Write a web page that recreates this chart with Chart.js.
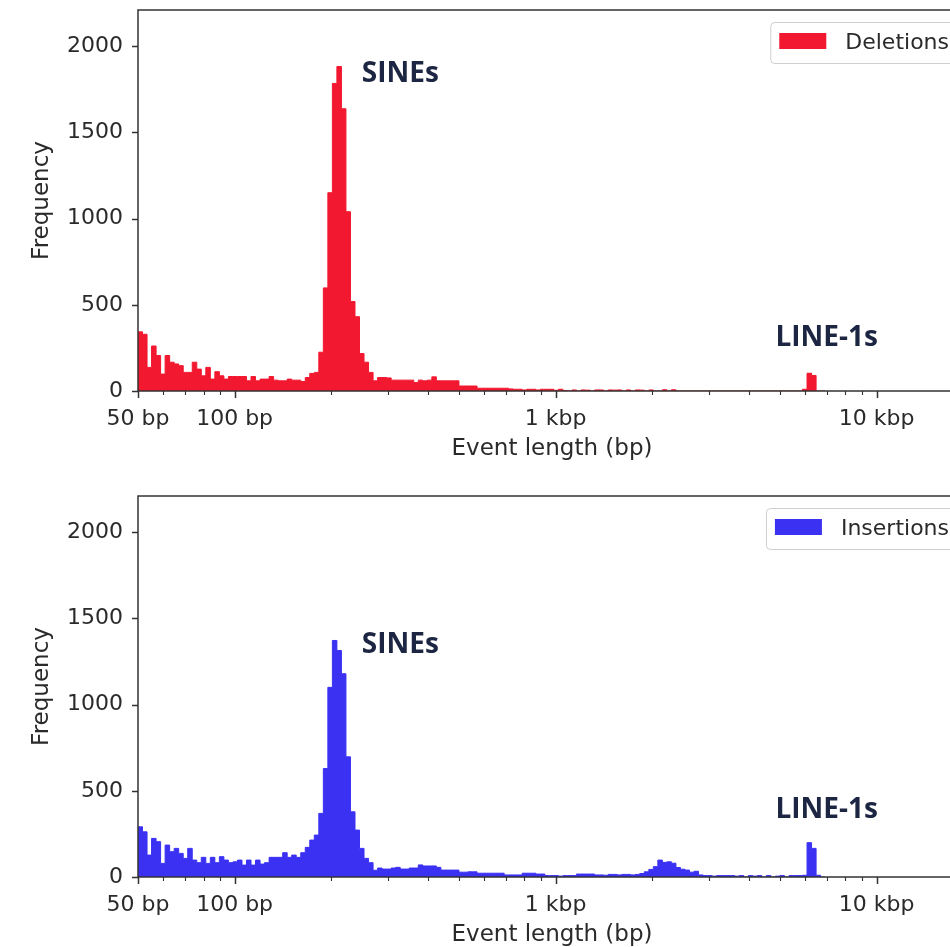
<!DOCTYPE html>
<html>
<head>
<meta charset="utf-8">
<script src="https://cdn.jsdelivr.net/npm/chart.js@4.4.1/dist/chart.umd.min.js"></script>
<style>
html, body { margin: 0; padding: 0; background: #ffffff; overflow: hidden; width: 950px; height: 947px; }
#wrap { position: relative; width: 980px; height: 947px; }
canvas { position: absolute; left: 0; display: block; }
#c1 { top: 0; }
#c2 { top: 486px; }
</style>
</head>
<body>
<div id="wrap">
  <canvas id="c1" width="980" height="486"></canvas>
  <canvas id="c2" width="980" height="486"></canvas>
</div>
<script>
// ---------------- data ----------------
// Histogram bins are log-spaced, starting at 50 bp, BINS_PER_DECADE bins per decade.
const FIRST_EDGE_BP = 50;
const BINS_PER_DECADE = 71;

const deletionCounts = [
  343, 329, 137, 261, 206, 98, 206, 167, 157, 147,
  108, 108, 167, 127, 88, 137, 69, 112, 88, 69,
  84, 84, 84, 84, 59, 84, 59, 69, 69, 84,
  63, 59, 59, 69, 63, 63, 55, 78, 102, 108,
  225, 598, 1150, 1784, 1882, 1637, 1040, 519, 431, 217,
  167, 108, 59, 78, 78, 76, 63, 63, 63, 63,
  63, 49, 63, 59, 63, 82, 59, 59, 59, 59,
  59, 29, 29, 29, 29, 16, 16, 16, 16, 16,
  16, 16, 12, 10, 10, 6, 10, 10, 6, 10,
  10, 10, 4, 10, 3, 0, 6, 0, 6, 5,
  0, 6, 6, 0, 6, 5, 6, 0, 6, 0,
  6, 5, 0, 6, 0, 0, 7, 0, 7, 0,
  0, 0, 0, 0, 0, 0, 0, 0, 0, 0,
  0, 0, 0, 0, 0, 0, 0, 0, 0, 0,
  0, 0, 0, 0, 0, 0, 0, 10, 103, 90,
  0, 0
];

const insertionCounts = [
  291, 262, 127, 224, 205, 79, 185, 147, 166, 137,
  108, 166, 98, 83, 114, 79, 114, 83, 118, 98,
  83, 88, 98, 69, 98, 69, 98, 75, 83, 114,
  114, 114, 141, 114, 127, 114, 141, 172, 214, 243,
  369, 629, 1100, 1372, 1314, 1179, 697, 378, 272, 166,
  108, 83, 39, 52, 46, 46, 52, 56, 46, 46,
  52, 52, 70, 64, 64, 64, 56, 40, 40, 40,
  40, 28, 28, 30, 30, 22, 22, 22, 22, 22,
  22, 12, 12, 12, 12, 22, 22, 22, 17, 17,
  8, 8, 8, 5, 8, 8, 8, 17, 17, 17,
  17, 12, 12, 10, 15, 15, 12, 15, 15, 12,
  15, 20, 30, 44, 60, 98, 85, 88, 80, 55,
  45, 40, 28, 33, 12, 8, 8, 5, 8, 8,
  8, 8, 5, 8, 0, 8, 5, 8, 0, 8,
  0, 5, 8, 0, 8, 8, 8, 10, 199, 166,
  10, 0
];

const majorTickValues = [50, 100, 1000, 10000];
const majorTickLabels = ['50 bp', '100 bp', '1 kbp', '10 kbp'];
const minorTickValues = [60, 70, 80, 90, 200, 300, 400, 500, 600, 700, 800, 900,
                         2000, 3000, 4000, 5000, 6000, 7000, 8000, 9000];
const yTickValues = [0, 500, 1000, 1500, 2000];
const X_MIN = 50, X_MAX = 19000;
const Y_MIN = 0, Y_MAX = 2210;

const deletionNotes = [
  { text: 'SINEs', x: 249, y: 1794 },
  { text: 'LINE-1s', x: 4840, y: 260 }
];
const insertionNotes = [
  { text: 'SINEs', x: 249, y: 1300 },
  { text: 'LINE-1s', x: 4840, y: 341 }
];

// ---------------- styling ----------------
const RED = '#f2182f';
const BLUE = '#3b31f3';
const AXIS = '#333333';
const TEXT = '#2a2a2a';
const FONT = '"DejaVu Sans", sans-serif';
const FS = 22;
const TFS = 23;

function binEdge(i) { return FIRST_EDGE_BP * Math.pow(10, i / BINS_PER_DECADE); }
function histPoints(counts) {
  const pts = counts.map((c, i) => ({ x: binEdge(i), y: c }));
  pts.push({ x: binEdge(counts.length), y: 0 });
  return pts;
}

const frameAndTicks = {
  id: 'frameAndTicks',
  afterDatasetsDraw(chart) {
    const { ctx, chartArea: a, scales: { x, y } } = chart;
    ctx.save();
    ctx.strokeStyle = AXIS;
    ctx.lineWidth = 1.5;
    ctx.beginPath();
    for (const v of majorTickValues) {
      const px = Math.round(x.getPixelForValue(v)) + 0.5;
      ctx.moveTo(px, a.bottom); ctx.lineTo(px, a.bottom + 7);
    }
    for (const v of yTickValues) {
      const py = Math.round(y.getPixelForValue(v)) + 0.5;
      ctx.moveTo(a.left, py); ctx.lineTo(a.left - 6, py);
    }
    ctx.stroke();
    ctx.lineWidth = 1.1;
    ctx.beginPath();
    for (const v of minorTickValues) {
      const px = Math.round(x.getPixelForValue(v)) + 0.5;
      ctx.moveTo(px, a.bottom); ctx.lineTo(px, a.bottom + 4);
    }
    ctx.stroke();
    ctx.lineWidth = 1.5;
    ctx.strokeRect(a.left, a.top, a.right - a.left, a.bottom - a.top);
    ctx.restore();
  }
};

const notesPlugin = {
  id: 'notes',
  afterDraw(chart, args, opts) {
    const { ctx, scales: { x, y } } = chart;
    ctx.save();
    ctx.font = '700 28px "Open Sans", "Noto Sans", sans-serif';
    ctx.fillStyle = '#1c2541';
    ctx.textAlign = 'left';
    ctx.textBaseline = 'alphabetic';
    for (const n of opts.items) {
      ctx.fillText(n.text, x.getPixelForValue(n.x), y.getPixelForValue(n.y));
    }
    ctx.restore();
  }
};

const legendBox = {
  id: 'legendBox',
  afterDraw(chart, args, opts) {
    const { ctx, chartArea: a } = chart;
    ctx.save();
    ctx.font = FS + 'px ' + FONT;
    const tw = ctx.measureText(opts.label).width;
    const right = a.right - 9, top = a.top + 12, h = 41;
    const textX = right - 8 - tw;
    const patchR = textX - 19, patchL = patchR - 47;
    const left = patchL - 9;
    ctx.beginPath();
    ctx.roundRect(left + 0.5, top + 0.5, right - left, h, 4);
    ctx.fillStyle = 'rgba(255,255,255,0.85)';
    ctx.fill();
    ctx.strokeStyle = '#cfcfcf';
    ctx.lineWidth = 1;
    ctx.stroke();
    ctx.fillStyle = opts.color;
    ctx.fillRect(patchL, top + 11, 47, 16);
    ctx.fillStyle = TEXT;
    ctx.textAlign = 'left';
    ctx.textBaseline = 'middle';
    ctx.fillText(opts.label, textX, top + h / 2 + 1);
    ctx.restore();
  }
};

function makeChart(canvasId, label, counts, color, notes) {
  return new Chart(document.getElementById(canvasId), {
    type: 'line',
    data: {
      datasets: [{
        label: label,
        data: histPoints(counts),
        stepped: true,
        fill: 'origin',
        backgroundColor: color,
        borderColor: color,
        borderWidth: 1,
        pointRadius: 0,
        tension: 0
      }]
    },
    options: {
      responsive: false,
      animation: false,
      events: [],
      layout: { padding: { top: 10, right: 14, bottom: 0, left: 0 } },
      plugins: {
        legend: { display: false },
        tooltip: { enabled: false },
        notes: { items: notes },
        legendBox: { label: label, color: color }
      },
      scales: {
        x: {
          type: 'logarithmic',
          min: X_MIN, max: X_MAX,
          grid: { display: false, drawTicks: false },
          border: { display: false },
          afterBuildTicks(scale) {
            scale.ticks = majorTickValues.concat(minorTickValues).map(v => ({ value: v }));
          },
          afterFit(scale) {
            scale.height = 95;
            scale.paddingLeft = 0; scale.paddingRight = 0;
          },
          ticks: {
            autoSkip: false, maxRotation: 0, minRotation: 0,
            padding: 15,
            color: TEXT,
            font: { family: FONT, size: FS },
            callback(value) {
              const i = majorTickValues.indexOf(value);
              return i >= 0 ? majorTickLabels[i] : '';
            }
          },
          title: {
            display: true, text: 'Event length (bp)', color: TEXT,
            font: { family: FONT, size: TFS },
            padding: { top: 0, bottom: 23 }
          }
        },
        y: {
          type: 'linear',
          min: Y_MIN, max: Y_MAX,
          grid: { display: false, drawTicks: false },
          border: { display: false },
          afterBuildTicks(scale) {
            scale.ticks = yTickValues.map(v => ({ value: v }));
          },
          afterFit(scale) {
            scale.width = 138;
            scale.paddingTop = 0; scale.paddingBottom = 0;
          },
          ticks: {
            padding: 15,
            color: TEXT,
            font: { family: FONT, size: FS },
            callback(value) { return String(value); }
          },
          title: {
            display: true, text: 'Frequency', color: TEXT,
            font: { family: FONT, size: TFS },
            padding: { top: 28, bottom: 0 }
          }
        }
      }
    },
    plugins: [frameAndTicks, notesPlugin, legendBox]
  });
}

makeChart('c1', 'Deletions', deletionCounts, RED, deletionNotes);
makeChart('c2', 'Insertions', insertionCounts, BLUE, insertionNotes);
</script>
</body>
</html>
